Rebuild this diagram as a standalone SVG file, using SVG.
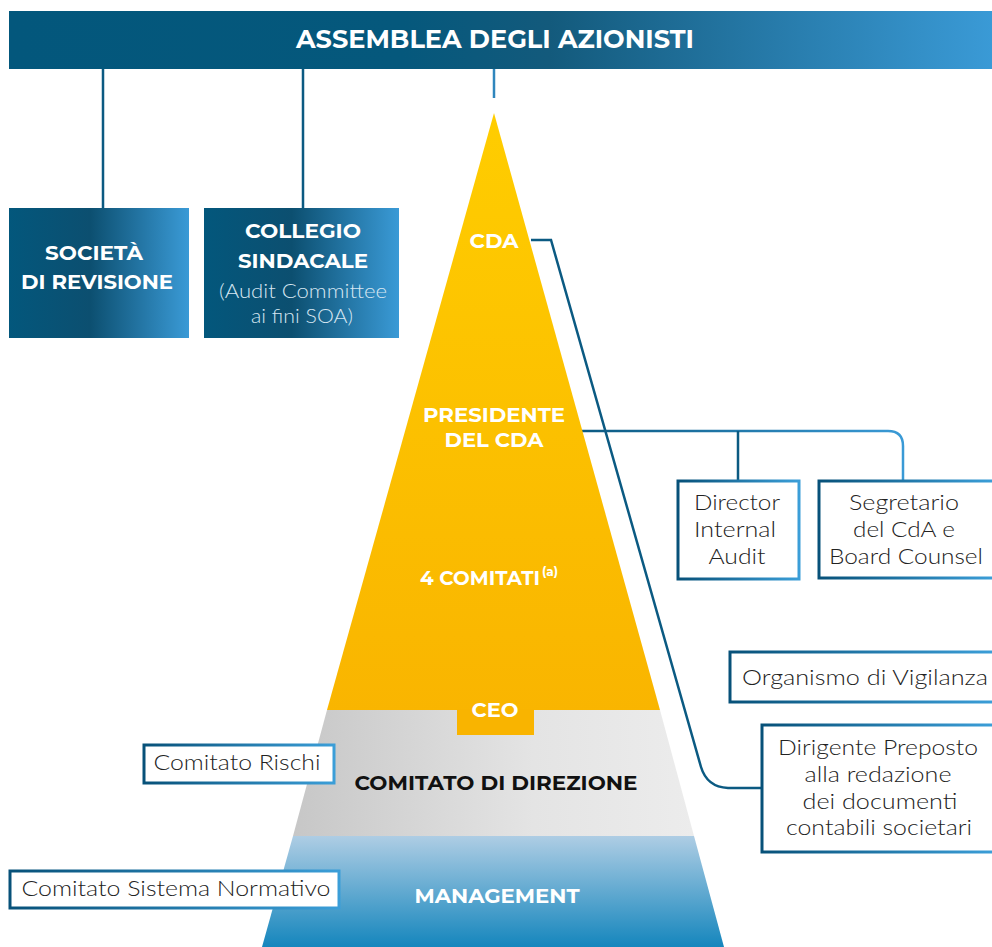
<svg xmlns="http://www.w3.org/2000/svg" width="992" height="947" viewBox="0 0 992 947">
<defs>
<linearGradient id="banner" x1="0" y1="0" x2="1" y2="0">
<stop offset="0" stop-color="#03577c"/><stop offset="0.4" stop-color="#05587c"/><stop offset="0.55" stop-color="#135a7c"/><stop offset="1" stop-color="#3a9ad6"/>
</linearGradient>
<linearGradient id="boxg" x1="0" y1="0" x2="1" y2="0">
<stop offset="0" stop-color="#03577c"/><stop offset="0.45" stop-color="#0c4f70"/><stop offset="1" stop-color="#3a9ad6"/>
</linearGradient>
<linearGradient id="strk" x1="0" y1="0" x2="1" y2="0">
<stop offset="0" stop-color="#075179"/><stop offset="1" stop-color="#3b9ed8"/>
</linearGradient>
<linearGradient id="yel" x1="0" y1="113" x2="0" y2="735" gradientUnits="userSpaceOnUse">
<stop offset="0" stop-color="#ffcd00"/><stop offset="1" stop-color="#f9b400"/>
</linearGradient>
<linearGradient id="grey" x1="0" y1="0" x2="1" y2="0">
<stop offset="0" stop-color="#c7c7c7"/><stop offset="0.6" stop-color="#e4e4e4"/><stop offset="1" stop-color="#ececec"/>
</linearGradient>
<linearGradient id="blu" x1="0" y1="0" x2="0" y2="1">
<stop offset="0" stop-color="#aecde4"/><stop offset="1" stop-color="#1586bd"/>
</linearGradient>
<linearGradient id="lineg" x1="0" y1="0" x2="1" y2="0">
<stop offset="0" stop-color="#0b5a82"/><stop offset="1" stop-color="#3a9ad6"/>
</linearGradient>
</defs>
<style>
.hb{font-family:"Montserrat","Noto Sans","Open Sans",sans-serif;font-weight:700;fill:#fff;text-anchor:middle}
.lt{font-family:"Lato","Open Sans","Noto Sans",sans-serif;font-weight:300;fill:#222;text-anchor:middle;font-size:21px}
.ltw{font-family:"Lato","Open Sans","Noto Sans",sans-serif;font-weight:300;fill:#d6e6f2;text-anchor:middle;font-size:19.5px}
.box{fill:#fff;stroke:url(#strk);stroke-width:3}
.conn{fill:none;stroke:#0b5a82;stroke-width:2.5}
</style>

<g id="assemblea">
<rect x="9" y="11" width="983" height="58" fill="url(#banner)"/>
<text class="hb" x="495" y="48" font-size="25" textLength="398" lengthAdjust="spacingAndGlyphs">ASSEMBLEA DEGLI AZIONISTI</text>
</g>

<g id="connectors">
<path class="conn" d="M103,69 V208 M303,69 V208"/>
<path d="M494,69 V98" fill="none" stroke="#2f86bd" stroke-width="2.5"/>
<path class="conn" d="M531,240 H551 L701,767 Q707,787 728,788 H761"/>
<path d="M582,431 H888 Q903,431 903,446 V480" fill="none" stroke="url(#lineg)" stroke-width="2.5"/>
<path class="conn" d="M738,431 V480"/>
<path d="M651,678 H729" fill="none" stroke="url(#lineg)" stroke-width="2.5"/>
</g>

<g id="societa">
<rect x="9" y="208" width="180" height="130" fill="url(#boxg)"/>
<text class="hb" font-size="20" x="94" y="260" textLength="98" lengthAdjust="spacingAndGlyphs">SOCIETÀ</text>
<text class="hb" font-size="20" x="97" y="289" textLength="152" lengthAdjust="spacingAndGlyphs">DI REVISIONE</text>
</g>

<g id="collegio">
<rect x="204" y="208" width="195" height="130" fill="url(#boxg)"/>
<text class="hb" font-size="20" x="303" y="238" textLength="116" lengthAdjust="spacingAndGlyphs">COLLEGIO</text>
<text class="hb" font-size="20" x="303" y="268" textLength="130" lengthAdjust="spacingAndGlyphs">SINDACALE</text>
<text class="ltw" x="303" y="298" textLength="168" lengthAdjust="spacingAndGlyphs">(Audit Committee</text>
<text class="ltw" x="302" y="323" textLength="102" lengthAdjust="spacingAndGlyphs">ai fini SOA)</text>
</g>

<g id="pyramid">
<path d="M494,113 L660,710 L327,710 Z" fill="url(#yel)"/>
<path d="M327,710 L660,710 L694,836 L293,836 Z" fill="url(#grey)"/>
<path d="M293,836 L694,836 L724,947 L262,947 Z" fill="url(#blu)"/>
<rect x="457" y="709" width="77" height="26" fill="#f9b400"/>
</g>

<g id="cda"><text class="hb" font-size="20" x="494" y="248" textLength="49" lengthAdjust="spacingAndGlyphs">CDA</text></g>
<g id="presidente">
<text class="hb" font-size="20" x="494" y="422" textLength="142" lengthAdjust="spacingAndGlyphs">PRESIDENTE</text>
<text class="hb" font-size="20" x="494" y="447" textLength="99" lengthAdjust="spacingAndGlyphs">DEL CDA</text>
</g>
<g id="comitati">
<text class="hb" font-size="20" x="480" y="585" textLength="120" lengthAdjust="spacingAndGlyphs">4 COMITATI</text>
<text class="hb" font-size="12" x="550" y="576">(a)</text>
</g>
<g id="ceo"><text class="hb" font-size="20" x="495" y="717" textLength="47" lengthAdjust="spacingAndGlyphs">CEO</text></g>
<g id="direzione"><text class="hb" font-size="20" x="496" y="790" style="fill:#111" textLength="283" lengthAdjust="spacingAndGlyphs">COMITATO DI DIREZIONE</text></g>
<g id="management"><text class="hb" font-size="20" x="497" y="903" textLength="165" lengthAdjust="spacingAndGlyphs">MANAGEMENT</text></g>

<g id="director">
<rect class="box" x="678" y="481" width="121" height="98"/>
<text class="lt" x="737" y="510" textLength="86" lengthAdjust="spacingAndGlyphs">Director</text>
<text class="lt" x="735" y="537" textLength="82" lengthAdjust="spacingAndGlyphs">Internal</text>
<text class="lt" x="737" y="564" textLength="57" lengthAdjust="spacingAndGlyphs">Audit</text>
</g>
<g id="segretario">
<rect class="box" x="819" y="481" width="175" height="97"/>
<text class="lt" x="904" y="510" textLength="110" lengthAdjust="spacingAndGlyphs">Segretario</text>
<text class="lt" x="904" y="537" textLength="102" lengthAdjust="spacingAndGlyphs">del CdA e</text>
<text class="lt" x="906" y="564" textLength="154" lengthAdjust="spacingAndGlyphs">Board Counsel</text>
</g>
<g id="organismo">
<rect class="box" x="730" y="652" width="264" height="50"/>
<text class="lt" x="865" y="685" textLength="246" lengthAdjust="spacingAndGlyphs">Organismo di Vigilanza</text>
</g>
<g id="dirigente">
<rect class="box" x="762" y="725" width="232" height="127"/>
<text class="lt" x="878" y="755" textLength="200" lengthAdjust="spacingAndGlyphs">Dirigente Preposto</text>
<text class="lt" x="878" y="782" textLength="147" lengthAdjust="spacingAndGlyphs">alla redazione</text>
<text class="lt" x="880" y="809" textLength="155" lengthAdjust="spacingAndGlyphs">dei documenti</text>
<text class="lt" x="879" y="835" textLength="186" lengthAdjust="spacingAndGlyphs">contabili societari</text>
</g>
<g id="rischi">
<rect class="box" x="144" y="745" width="190" height="38"/>
<text class="lt" x="237" y="770" textLength="167" lengthAdjust="spacingAndGlyphs">Comitato Rischi</text>
</g>
<g id="normativo">
<rect class="box" x="10" y="871" width="329" height="37"/>
<text class="lt" x="176" y="896" textLength="309" lengthAdjust="spacingAndGlyphs">Comitato Sistema Normativo</text>
</g>
</svg>
